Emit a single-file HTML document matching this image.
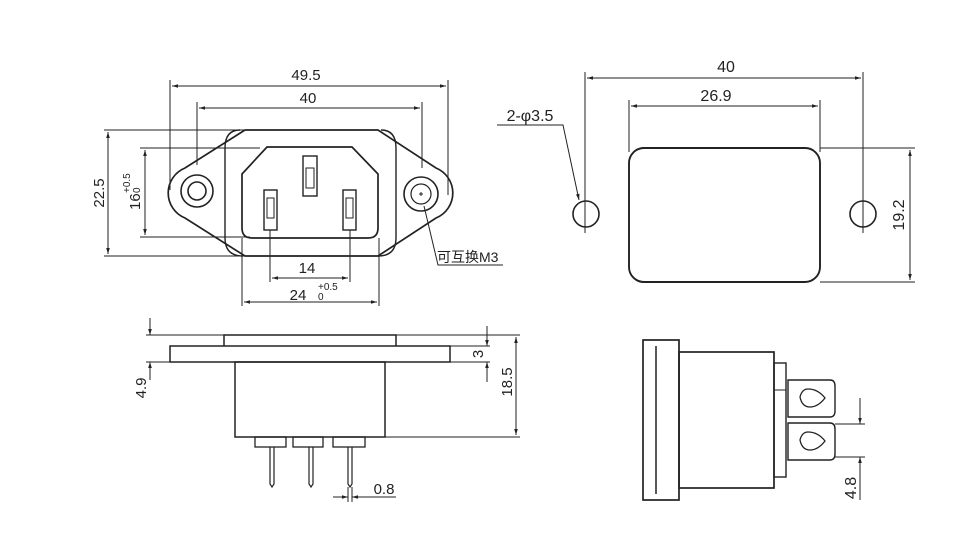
<!DOCTYPE html>
<html><head><meta charset="utf-8"><style>
html,body{margin:0;padding:0;background:#fff;}
svg{display:block;}
text{font-family:"Liberation Sans","Noto Sans CJK SC",sans-serif;fill:#222;}
</style></head><body>
<svg width="968" height="535" viewBox="0 0 968 535" xmlns="http://www.w3.org/2000/svg">
<defs>
<marker id="a" viewBox="0 0 10 10" refX="10" refY="5" markerWidth="10" markerHeight="6" orient="auto-start-reverse" markerUnits="userSpaceOnUse"><path d="M0,2 L10,5 L0,8 z" fill="#222"/></marker>
</defs>
<g stroke="#222" fill="none" stroke-width="1">
<line x1="170" y1="80" x2="170" y2="190"/>
<line x1="448" y1="80" x2="448" y2="195"/>
<line x1="172" y1="86" x2="446" y2="86" marker-start="url(#a)" marker-end="url(#a)"/>
<line x1="197" y1="102" x2="197" y2="165"/>
<line x1="422" y1="102" x2="422" y2="168"/>
<line x1="199" y1="108" x2="420" y2="108" marker-start="url(#a)" marker-end="url(#a)"/>
<line x1="104" y1="130" x2="250" y2="130"/>
<line x1="104" y1="256" x2="250" y2="256"/>
<line x1="108" y1="132" x2="108" y2="254" marker-start="url(#a)" marker-end="url(#a)"/>
<line x1="140" y1="148" x2="260" y2="148"/>
<line x1="140" y1="237" x2="250" y2="237"/>
<line x1="145" y1="150" x2="145" y2="235" marker-start="url(#a)" marker-end="url(#a)"/>
<line x1="270" y1="230" x2="270" y2="282"/>
<line x1="350" y1="230" x2="350" y2="282"/>
<line x1="272" y1="278" x2="348" y2="278" marker-start="url(#a)" marker-end="url(#a)"/>
<line x1="242" y1="238" x2="242" y2="306"/>
<line x1="379" y1="238" x2="379" y2="306"/>
<line x1="244" y1="302" x2="377" y2="302" marker-start="url(#a)" marker-end="url(#a)"/>
<path d="M245,130 L378,130 L436,168 A27,27 0 0 1 436,218 L378,256 L245,256 L185,218 A27,27 0 0 1 185,168 Z" stroke-width="1.7"/>
<path d="M240,130 Q225,130 225,148 L225,238 Q225,256 243,256 M381,130 Q396,130 396,148 L396,238 Q396,256 378,256" stroke-width="1.4"/>
<path d="M267,147 L352,147 L378,174 L378,228 Q378,238 368,238 L252,238 Q242,238 242,228 L242,174 Z" stroke-width="1.7"/>
<rect x="303" y="156" width="14" height="40" stroke-width="1.4"/>
<rect x="306" y="168" width="8" height="20"/>
<rect x="264" y="190" width="13" height="40" stroke-width="1.4"/>
<rect x="267" y="198" width="7" height="20"/>
<rect x="343" y="190" width="13" height="40" stroke-width="1.4"/>
<rect x="346" y="198" width="7" height="20"/>
<circle cx="197" cy="191" r="16" stroke-width="1.6"/>
<circle cx="197" cy="191" r="9" stroke-width="1.6"/>
<circle cx="421" cy="194" r="17" stroke-width="1.6"/>
<circle cx="421" cy="194" r="10" stroke-width="1.2"/>
<line x1="419" y1="194" x2="423" y2="194"/><line x1="421" y1="192" x2="421" y2="196"/>
<path d="M424,206 L438,265 L503,265"/>
<line x1="585" y1="72" x2="585" y2="233"/>
<line x1="863" y1="72" x2="863" y2="233"/>
<line x1="587" y1="78" x2="861" y2="78" marker-start="url(#a)" marker-end="url(#a)"/>
<line x1="629" y1="100" x2="629" y2="152"/>
<line x1="820" y1="100" x2="820" y2="152"/>
<line x1="631" y1="106" x2="818" y2="106" marker-start="url(#a)" marker-end="url(#a)"/>
<rect x="629" y="148" width="191" height="134" rx="15" stroke-width="1.9"/>
<circle cx="586" cy="214" r="13" stroke-width="1.6"/>
<circle cx="863" cy="214" r="13" stroke-width="1.6"/>
<line x1="820" y1="148" x2="915" y2="148"/>
<line x1="820" y1="282" x2="915" y2="282"/>
<line x1="910" y1="150" x2="910" y2="280" marker-start="url(#a)" marker-end="url(#a)"/>
<path d="M497,125 L563,125 L579,200" marker-end="url(#a)"/>
<path d="M224,346 L224,335 L396,335 L396,346" stroke-width="1.5"/>
<rect x="170" y="346" width="280" height="16" stroke-width="1.5"/>
<rect x="235" y="362" width="150" height="75" stroke-width="1.5"/>
<rect x="255" y="437" width="31" height="10" stroke-width="1.3"/>
<rect x="293" y="437" width="30" height="10" stroke-width="1.3"/>
<rect x="333" y="437" width="32" height="10" stroke-width="1.3"/>
<path d="M270,447 L270,484 L272,487 L274,484 L274,447" stroke-width="1.2"/>
<path d="M309,447 L309,484 L311,487 L313,484 L313,447" stroke-width="1.2"/>
<path d="M348,447 L348,484 L350,487 L352,484 L352,447" stroke-width="1.2"/>
<line x1="146" y1="335" x2="224" y2="335"/>
<line x1="146" y1="362" x2="170" y2="362"/>
<line x1="150" y1="318" x2="150" y2="335" marker-end="url(#a)"/>
<line x1="150" y1="380" x2="150" y2="362" marker-end="url(#a)"/>
<line x1="396" y1="335" x2="520" y2="335"/>
<line x1="450" y1="346" x2="490" y2="346"/>
<line x1="450" y1="362" x2="490" y2="362"/>
<line x1="385" y1="437" x2="520" y2="437"/>
<line x1="487" y1="326" x2="487" y2="346" marker-end="url(#a)"/>
<line x1="487" y1="382" x2="487" y2="362" marker-end="url(#a)"/>
<line x1="516" y1="337" x2="516" y2="435" marker-start="url(#a)" marker-end="url(#a)"/>
<line x1="348" y1="487" x2="348" y2="502"/><line x1="352" y1="487" x2="352" y2="502"/>
<line x1="333" y1="497" x2="348" y2="497" marker-end="url(#a)"/>
<line x1="396" y1="497" x2="352" y2="497" marker-end="url(#a)"/>
<rect x="643" y="340" width="36" height="160" stroke-width="1.7"/>
<line x1="656" y1="346" x2="656" y2="494" stroke-width="1.5"/>
<rect x="679" y="352" width="95" height="136" stroke-width="1.7"/>
<rect x="774" y="363" width="12" height="114" stroke-width="1.4"/>
<line x1="786" y1="390" x2="774" y2="390"/>
<path d="M788,380 L830,380 Q835,380 835,386 L835,411 Q835,417 830,417 L788,417 Z" stroke-width="1.4"/>
<path d="M788,423 L830,423 Q835,423 835,429 L835,454 Q835,460 830,460 L788,460 Z" stroke-width="1.4"/>
<path d="M808,389 Q802,389 800,397 Q802,407 810,407 Q818,407 825,398 Q818,389 808,389 Z" stroke-width="1.3"/>
<path d="M808,432 Q802,432 800,440 Q802,450 810,450 Q818,450 825,441 Q818,432 808,432 Z" stroke-width="1.3"/>
<line x1="835" y1="424" x2="865" y2="424"/>
<line x1="835" y1="457" x2="865" y2="457"/>
<line x1="860" y1="398" x2="860" y2="424" marker-end="url(#a)"/>
<line x1="860" y1="500" x2="860" y2="457" marker-end="url(#a)"/>
</g>
<g font-size="15">
<text x="306" y="80" text-anchor="middle">49.5</text>
<text x="308" y="103" text-anchor="middle">40</text>
<text x="307" y="273" text-anchor="middle">14</text>
<text x="298" y="300" text-anchor="middle">24</text>
<text x="318" y="290" font-size="10">+0.5</text>
<text x="318" y="300" font-size="10">0</text>
<text transform="translate(104,193) rotate(-90)" text-anchor="middle">22.5</text>
<text transform="translate(140,210) rotate(-90)">16</text>
<text transform="translate(130,193) rotate(-90)" font-size="10">+0.5</text>
<text transform="translate(140,193) rotate(-90)" font-size="10">0</text>
<text x="437" y="262" font-size="14">可互换M3</text>
<text x="726" y="72" text-anchor="middle" font-size="16">40</text>
<text x="716" y="101" text-anchor="middle" font-size="16">26.9</text>
<text x="530" y="121" text-anchor="middle" font-size="16">2-φ3.5</text>
<text transform="translate(904,215) rotate(-90)" text-anchor="middle" font-size="16">19.2</text>
<text transform="translate(146,388) rotate(-90)" text-anchor="middle">4.9</text>
<text transform="translate(483,354) rotate(-90)" text-anchor="middle">3</text>
<text transform="translate(512,382) rotate(-90)" text-anchor="middle">18.5</text>
<text x="384" y="494" text-anchor="middle">0.8</text>
<text transform="translate(856,488) rotate(-90)" text-anchor="middle" font-size="16">4.8</text>
</g>
</svg>
</body></html>
